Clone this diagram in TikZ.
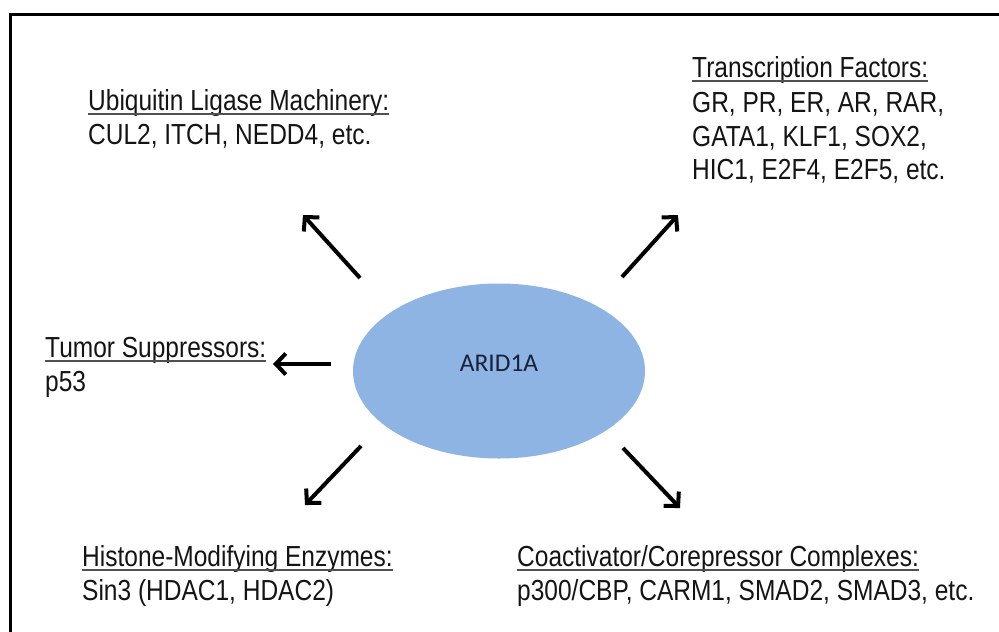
\documentclass[tikz,border=0pt]{standalone}
\usepackage{fontspec}
\setmainfont[FakeStretch=0.845]{Liberation Sans}
\newfontfamily\calfont{Carlito}
\usetikzlibrary{arrows.meta,shapes.geometric}
\definecolor{ellfill}{HTML}{8EB4E3}
\definecolor{txt}{HTML}{141414}
\definecolor{ulc}{HTML}{505050}
\definecolor{navy}{HTML}{17223A}
\tikzset{
  lbl/.style={anchor=base west, inner sep=0pt, text=txt, font=\fontsize{29}{34}\selectfont},
  ul/.style={draw=ulc, line width=2.2pt},
  arr/.style={line width=4pt, -{Straight Barb[length=10pt,width=21pt,line width=4pt]}},
  frame/.style={line width=3pt}
}
\begin{document}
\begin{tikzpicture}[x=1pt,y=-1pt]
\useasboundingbox (0,0) rectangle (999,632);
\coordinate (f1) at (10,640);
\coordinate (f2) at (10,14);
\coordinate (f3) at (1005,14);
\draw[frame] (f1) -- (f2) -- (f3);

\node[ellipse, draw=none, fill=ellfill, inner sep=0pt, minimum width=292pt, minimum height=175pt] (core) at (499,371) {};
\node[inner sep=0pt, text=navy, font=\calfont\fontsize{25.5}{28}\selectfont] (coretxt) at (499,363) {ARID1A};

% text blocks
\node[lbl] (ubiT) at (88,110) {Ubiquitin Ligase Machinery:};
\node[lbl] (ubi1) at (88,144) {CUL2, ITCH, NEDD4, etc.};
\node[lbl] (trT) at (692,77) {Transcription Factors:};
\node[lbl] (tr1) at (692,112) {GR, PR, ER, AR, RAR,};
\node[lbl] (tr2) at (692,146) {GATA1, KLF1, SOX2,};
\node[lbl] (tr3) at (692,179) {HIC1, E2F4, E2F5, etc.};
\node[lbl] (tuT) at (45,357) {Tumor Suppressors:};
\node[lbl] (tu1) at (45,391) {p53};
\node[lbl] (hiT) at (82,566) {Histone-Modifying Enzymes:};
\node[lbl] (hi1) at (82,600) {Sin3 (HDAC1, HDAC2)};
\node[lbl] (coT) at (517,566) {Coactivator/Corepressor Complexes:};
\node[lbl] (co1) at (517,600) {p300/CBP, CARM1, SMAD2, SMAD3, etc.};

% underlines
\foreach \n in {ubiT,trT,tuT,hiT,coT}{
  \draw[ul] ([yshift=-4pt]\n.base west) -- ([yshift=-4pt]\n.base east);
}

% arrows
\coordinate (t1) at (360,278); \coordinate (h1) at (303,215);
\coordinate (t2) at (622,277); \coordinate (h2) at (678,215);
\coordinate (t3) at (331,364); \coordinate (h3) at (273,364);
\coordinate (t4) at (361,446); \coordinate (h4) at (305,505);
\coordinate (t5) at (623,448); \coordinate (h5) at (680,508);
\draw[arr] (t1) -- (h1);
\draw[arr] (t2) -- (h2);
\draw[arr] (t3) -- (h3);
\draw[arr] (t4) -- (h4);
\draw[arr] (t5) -- (h5);
\end{tikzpicture}
\end{document}
